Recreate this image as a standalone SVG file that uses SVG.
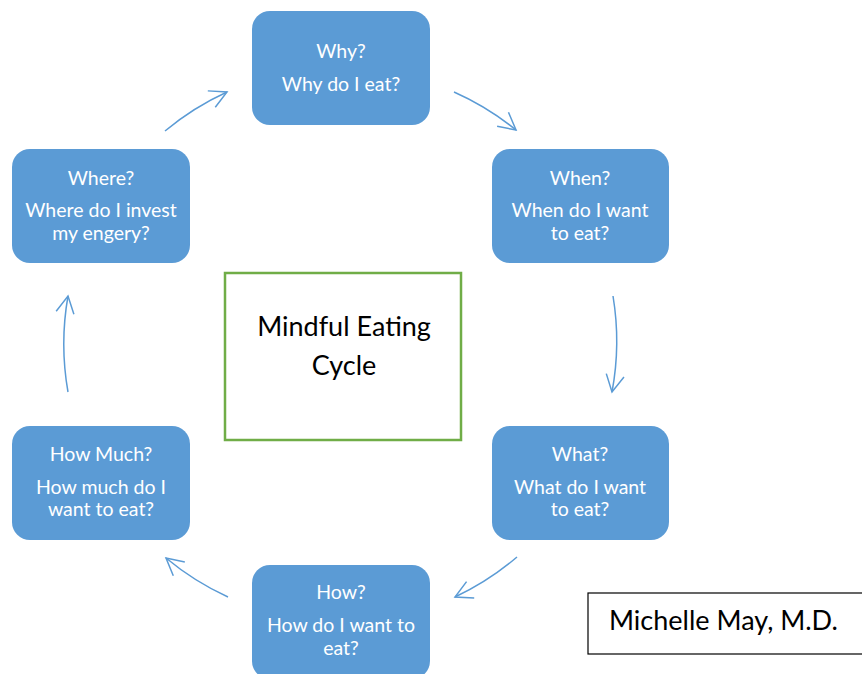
<svg xmlns="http://www.w3.org/2000/svg" width="862" height="674" viewBox="0 0 862 674">
<defs>
<style>
.node rect{fill:#5B9BD5;}
.node text{fill:#fff;font-family:Lato,"Open Sans",sans-serif;font-size:19.5px;text-anchor:middle;}
.arc{fill:none;stroke:#5B9BD5;stroke-width:1.5;marker-end:url(#ah);}
.big{font-family:Lato,"Open Sans",sans-serif;fill:#000;}
</style>
<marker id="ah" markerUnits="userSpaceOnUse" markerWidth="24" markerHeight="24" viewBox="-20 -12 24 24" refX="0" refY="0" orient="auto">
<path d="M-17,-9 L0,0 L-17,9" fill="none" stroke="#5B9BD5" stroke-width="1.5"/>
</marker>
</defs>
<rect width="862" height="674" fill="#fff"/>
<g id="connectors">
<path class="arc" d="M165,131 A276 276 0 0 1 227,92"/>
<path class="arc" d="M454,92 A276 276 0 0 1 516,130"/>
<path class="arc" d="M613,296 A276 276 0 0 1 612,392"/>
<path class="arc" d="M517,557 A276 276 0 0 1 455,597"/>
<path class="arc" d="M228,597 A276 276 0 0 1 166,558"/>
<path class="arc" d="M68,392 A276 276 0 0 1 68,296"/>
</g>
<g id="why" class="node"><rect x="252" y="11" width="178" height="114" rx="18"/>
<text x="341" y="58">Why?</text><text x="341" y="91">Why do I eat?</text></g>
<g id="when" class="node"><rect x="492" y="149" width="177" height="114" rx="18"/>
<text x="580" y="185">When?</text><text x="580" y="217">When do I want</text><text x="580" y="240">to eat?</text></g>
<g id="what" class="node"><rect x="492" y="426" width="177" height="114" rx="18"/>
<text x="580" y="461">What?</text><text x="580" y="494">What do I want</text><text x="580" y="516">to eat?</text></g>
<g id="how" class="node"><rect x="252" y="565" width="178" height="114" rx="18"/>
<text x="341" y="599">How?</text><text x="341" y="632">How do I want to</text><text x="341" y="655">eat?</text></g>
<g id="howmuch" class="node"><rect x="12" y="426" width="178" height="114" rx="18"/>
<text x="101" y="461">How Much?</text><text x="101" y="494">How much do I</text><text x="101" y="516">want to eat?</text></g>
<g id="where" class="node"><rect x="12" y="149" width="178" height="114" rx="18"/>
<text x="101" y="185">Where?</text><text x="101" y="217">Where do I invest</text><text x="101" y="240">my engery?</text></g>
<g id="center">
<rect x="225" y="273" width="236" height="167" fill="#fff" stroke="#70AD47" stroke-width="2.5"/>
<text class="big" x="344" y="336" font-size="27" text-anchor="middle">Mindful Eating</text>
<text class="big" x="344" y="375" font-size="27" text-anchor="middle">Cycle</text>
</g>
<g id="author">
<rect x="588" y="593" width="280" height="61" fill="#fff" stroke="#000" stroke-width="1.2"/>
<text class="big" x="609" y="630" font-size="27">Michelle May, M.D.</text>
</g>
</svg>
